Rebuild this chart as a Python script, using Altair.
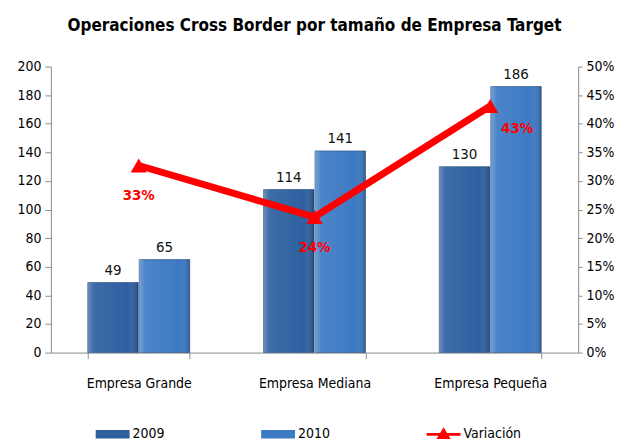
import altair as alt
import pandas as pd

categorias = ["Empresa Grande", "Empresa Mediana", "Empresa Pequeña"]
anios = ["2009", "2010"]
valores_2009 = [49, 114, 130]
valores_2010 = [65, 141, 186]
variacion = [0.327, 0.237, 0.431]
serie_linea = "Variación"
ticks_izq = [0, 20, 40, 60, 80, 100, 120, 140, 160, 180, 200]
ticks_der = [0, 0.05, 0.10, 0.15, 0.20, 0.25, 0.30, 0.35, 0.40, 0.45, 0.50]

bars_df = pd.DataFrame({
    "categoria": categorias * 2,
    "anio": [anios[0]] * 3 + [anios[1]] * 3,
    "valor": valores_2009 + valores_2010,
})
var_df = pd.DataFrame({
    "categoria": categorias,
    "variacion": variacion,
    "serie": [serie_linea] * 3,
})

FONT = "'Liberation Sans Narrow', 'DejaVu Sans Condensed', 'Liberation Sans', sans-serif"
AXC = "#8c8c8c"

x_enc = alt.X(
    "categoria:N", sort=categorias,
    scale=alt.Scale(paddingInner=0.42, paddingOuter=0.21),
    axis=alt.Axis(title=None, labelAngle=0, labelFontSize=14, labelPadding=18,
                  tickBand="extent", tickSize=6, domainColor=AXC, tickColor=AXC,
                  labelColor="#000", labelFont=FONT),
)
xoff = alt.XOffset("anio:N", sort=anios, scale=alt.Scale(paddingInner=0.02))
y_left = alt.Y(
    "valor:Q", scale=alt.Scale(domain=[0, 200]),
    axis=alt.Axis(values=ticks_izq, grid=False, title=None, labelFontSize=14,
                  labelFont=FONT, domainColor=AXC, tickColor=AXC, tickSize=6,
                  labelColor="#000", labelPadding=4, labelOverlap=False,
                  labelFlush=False),
)

bar_legend = alt.Legend(
    title=None, orient="none", legendX=45, legendY=352, direction="horizontal",
    symbolType="M-1,-0.25H1V0.25H-1Z", symbolSize=1156, symbolStrokeWidth=0,
    labelFontSize=14, labelFont=FONT, labelColor="#000", columnPadding=96,
    padding=0, labelOffset=3,
)
bars = alt.Chart(bars_df).mark_bar(stroke="#1d4679", strokeWidth=0.6).encode(
    x=x_enc, xOffset=xoff, y=y_left,
    fill=alt.Fill("anio:N", sort=anios,
                  scale=alt.Scale(domain=anios, range=["#2E60A0", "#3D7AC4"]),
                  legend=bar_legend),
)
overlay = alt.Chart(bars_df).mark_bar(
    fill=alt.LinearGradient(
        gradient="linear", x1=0, y1=0, x2=1, y2=0,
        stops=[
            alt.GradientStop(color="rgba(255,255,255,0.30)", offset=0),
            alt.GradientStop(color="rgba(255,255,255,0.08)", offset=0.12),
            alt.GradientStop(color="rgba(255,255,255,0.0)", offset=0.8),
            alt.GradientStop(color="rgba(0,0,0,0.22)", offset=1),
        ],
    )
).encode(x=x_enc, xOffset=xoff, y=y_left)
bar_text = alt.Chart(bars_df).mark_text(
    dy=-13, fontSize=15, font=FONT, color="#111"
).encode(x=x_enc, xOffset=xoff, y=y_left, text="valor:Q")

left = alt.layer(bars, overlay, bar_text)

y_right = alt.Y(
    "variacion:Q", scale=alt.Scale(domain=[0, 0.5]),
    axis=alt.Axis(orient="right", values=ticks_der, format=".0%", grid=False,
                  title=None, labelFontSize=14, labelFont=FONT, domainColor=AXC,
                  tickColor=AXC, tickSize=4, labelPadding=4, labelColor="#000",
                  labelOverlap=False, labelFlush=False),
)
line = alt.Chart(var_df).mark_line(color="#FF0000", strokeWidth=7).encode(
    x=x_enc, y=y_right)
pt_legend = alt.Legend(
    title=None, orient="none", legendX=377, legendY=352,
    symbolType="M-1,-0.08H1V0.08H-1Z M0,-0.42L0.42,0.28H-0.42Z",
    symbolSize=1156, symbolStrokeWidth=0, labelFontSize=14, labelFont=FONT,
    labelColor="#000", padding=0, labelOffset=3,
)
points = alt.Chart(var_df).mark_point(
    shape="triangle-up", filled=True, size=260, opacity=1
).encode(
    x=x_enc, y=y_right,
    color=alt.Color("serie:N", scale=alt.Scale(domain=[serie_linea], range=["#FF0000"]),
                    legend=pt_legend),
)
pct_a = alt.Chart(var_df).transform_filter(
    alt.datum.categoria != categorias[2]
).mark_text(dy=30, fontSize=15, fontWeight="bold", font=FONT, color="#FF0000").encode(
    x=x_enc, y=y_right, text=alt.Text("variacion:Q", format=".0%"))
pct_b = alt.Chart(var_df).transform_filter(
    alt.datum.categoria == categorias[2]
).mark_text(dx=27, dy=22, fontSize=15, fontWeight="bold", font=FONT, color="#FF0000").encode(
    x=x_enc, y=y_right, text=alt.Text("variacion:Q", format=".0%"))

right = alt.layer(line, points, pct_a, pct_b)

chart = alt.layer(left, right).resolve_scale(y="independent").properties(
    width=529, height=287,
    title=alt.TitleParams("Operaciones Cross Border por tamaño de Empresa Target",
                          fontSize=17, fontWeight="bold", font=FONT, color="#000",
                          offset=25, anchor="middle"),
    padding={"left": 8, "top": 8, "right": 5, "bottom": 0},
).configure_view(stroke=None)

chart.save("out.html", embed_options={"renderer": "svg", "actions": False})
